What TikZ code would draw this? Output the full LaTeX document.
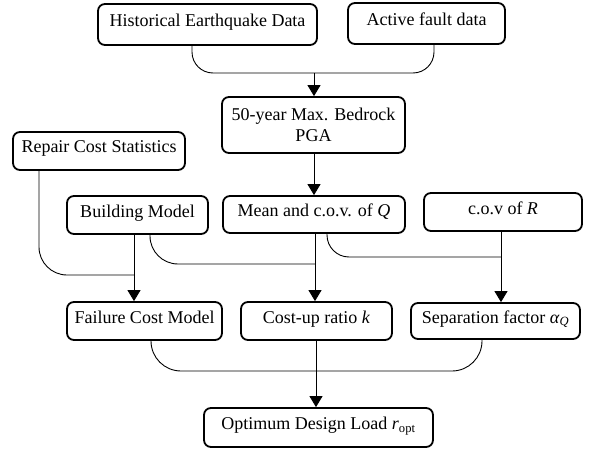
\documentclass[tikz,border=0pt]{standalone}
\usepackage{fontspec}
\setmainfont{Liberation Serif}
\usetikzlibrary{arrows.meta}

\begin{document}
\begin{tikzpicture}[x=1pt, y=-1pt,
      boxbase/.style={draw, line width=1.8pt, rounded corners=7pt,
                      inner sep=0pt, align=center,
                      font=\fontsize{18}{21}\selectfont},
      box/.style={boxbase, text height=12pt, text depth=8pt},
      lnk/.style={line width=0.9pt, rounded corners=28pt},
      arr/.style={line width=0.9pt, -{Triangle[width=13pt, length=11pt]}}]
    \useasboundingbox (0,0) rectangle (595,452);
    % input data
    \node[box, minimum width=219pt, minimum height=41pt] (hist)   at (207.5,24.5) {Historical Earthquake Data};
    \node[box, minimum width=157pt, minimum height=41pt] (fault)  at (426.5,23.5) {Active fault data};
    \node[boxbase, minimum width=183pt, minimum height=56pt] (pga) at (313.5,125)  {50-year Max. Bedrock\\PGA};
    \node[box, minimum width=172pt, minimum height=38pt] (repair) at (99,151)     {Repair Cost Statistics};
    % models
    \node[box, minimum width=141pt, minimum height=38pt] (bldg)   at (137.5,215)  {Building Model};
    \node[box, minimum width=182pt, minimum height=37pt] (mean)   at (314,214.5)  {Mean and c.o.v. of \textit{Q}};
    \node[box, minimum width=158pt, minimum height=38pt] (covr)   at (503,212)    {c.o.v of \textit{R}};
    \node[box, minimum width=155pt, minimum height=38pt] (fail)   at (144.5,321)  {Failure Cost Model};
    \node[box, minimum width=151pt, minimum height=38pt] (cost)   at (316.5,321)  {Cost-up ratio \textit{k}};
    \node[box, minimum width=169pt, minimum height=36pt] (sep)    at (495.5,321)  {Separation factor \textit{α}\textsubscript{\textit{Q}}};
    % result
    \node[box, minimum width=229pt, minimum height=39pt] (opt)    at (318.5,427.5){Optimum Design Load \textit{r}\textsubscript{opt}};
    % connectors
    \coordinate (jtop) at (314,73);
    \coordinate (jrep) at (134,275);
    \coordinate (jbq)  at (315,264);
    \coordinate (jqr)  at (501,257);
    \coordinate (jopt) at (316,371);
    \draw[lnk, rounded corners=21pt] ([xshift=-15.5pt]hist.south) |- (jtop) -| ([xshift=7.5pt]fault.south);
    \draw[arr] (jtop) -- (jtop |- pga.north);
    \draw[arr] ([xshift=0.5pt]pga.south) -- ([xshift=0.5pt]pga.south |- mean.north);
    \draw[lnk] ([xshift=-60pt]repair.south) |- (jrep);
    \draw[arr] ([xshift=-3.5pt]bldg.south) -- ([xshift=-3.5pt]bldg.south |- fail.north);
    \draw[lnk] ([xshift=12.5pt]bldg.south) |- (jbq);
    \draw[arr] ([xshift=1pt]mean.south) -- ([xshift=1pt]mean.south |- cost.north);
    \draw[lnk, rounded corners=22pt] ([xshift=13pt]mean.south) |- (jqr);
    \draw[arr] ([xshift=-2pt]covr.south) -- ([xshift=-2pt]covr.south |- sep.north);
    \draw[lnk, rounded corners=30pt] ([xshift=6.5pt]fail.south) |- (jopt) -| ([xshift=-13.5pt]sep.south);
    \draw[arr] ([xshift=-0.5pt]cost.south) -- ([xshift=-0.5pt]cost.south |- opt.north);
\end{tikzpicture}
\end{document}
